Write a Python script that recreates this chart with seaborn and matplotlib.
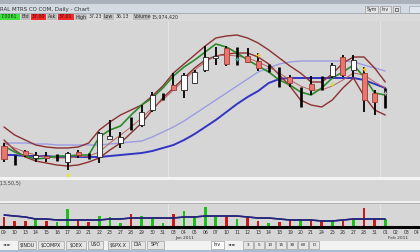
import numpy as np
import pandas as pd
import matplotlib
matplotlib.use("Agg")
import matplotlib.pyplot as plt
from matplotlib.patches import Rectangle
import seaborn as sns

# ---------------- data ----------------
dates = ["09", "10", "13", "14", "15", "16", "17", "20", "21", "22", "23", "27", "28", "29", "30", "31",
         "03", "04", "05", "06", "07", "10", "11", "12", "13", "14", "18", "19", "20", "21", "24", "25",
         "26", "27", "28", "31", "01", "02", "03", "04"]
opens = [34.70, 34.00, 34.45, 34.10, 34.20, 34.13, 33.90, 34.40, 34.20, 34.15,
         35.05, 34.85, 35.85, 35.75, 36.50, 37.20, 37.75, 37.50, 37.85, 38.50,
         39.10, 39.60, 39.05, 39.20, 38.95, 38.60, 38.15, 38.15, 37.15, 37.80,
         37.85, 38.20, 39.15, 38.50, 38.35, 37.35, 37.10]
closes = [34.05, 34.00, 34.25, 34.25, 34.10, 34.13, 34.35, 34.25, 34.20, 35.35,
          35.20, 35.15, 35.85, 36.40, 37.25, 37.20, 37.50, 38.25, 38.40, 39.15,
          39.20, 38.80, 39.05, 38.90, 38.60, 38.60, 38.15, 37.85, 37.15, 37.50,
          37.85, 38.75, 38.25, 39.00, 37.00, 36.90, 37.10]
highs = [34.85, 34.25, 34.50, 34.40, 34.40, 34.30, 34.40, 34.50, 34.35, 35.40,
         36.00, 35.40, 36.15, 36.75, 37.40, 37.35, 38.35, 38.35, 38.50, 39.70,
         39.65, 39.70, 39.65, 39.60, 39.35, 38.80, 38.65, 38.25, 37.65, 38.20,
         38.20, 38.85, 39.25, 39.25, 38.65, 37.50, 37.60]
lows = [33.90, 33.75, 34.15, 33.90, 33.90, 33.95, 33.50, 34.10, 34.05, 33.85,
        35.05, 34.60, 35.50, 35.65, 36.40, 37.00, 37.50, 37.10, 37.80, 38.40,
        38.75, 38.70, 38.75, 38.85, 38.45, 38.40, 37.65, 37.65, 36.65, 37.25,
        37.50, 38.10, 38.15, 38.15, 36.40, 36.25, 36.60]

upper_band = [35.65, 35.25, 35.00, 34.75, 34.65, 34.60, 34.60, 34.65, 34.85, 35.50,
              35.90, 36.25, 36.50, 36.75, 37.20, 37.70, 38.35, 38.80, 39.25, 39.70,
              40.10, 40.20, 40.25, 40.10, 39.85, 39.50, 39.10, 38.70, 38.35, 37.90,
              37.90, 38.30, 38.85, 39.15, 39.15, 38.60, 37.90]
lower_band = [35.00, 34.50, 34.15, 33.95, 33.85, 33.75, 33.70, 33.75, 33.90, 34.10,
              34.50, 34.85, 35.35, 35.85, 36.50, 37.10, 37.60, 38.10, 38.60, 39.00,
              39.20, 39.30, 39.35, 39.35, 39.15, 38.80, 38.25, 37.70, 37.00, 36.75,
              36.65, 37.00, 37.60, 38.10, 37.20, 36.50, 36.25]
fast_ma = [34.70, 34.40, 34.20, 34.05, 34.10, 34.20, 34.20, 34.25, 34.25, 35.15,
           35.50, 35.70, 36.25, 36.75, 37.10, 37.60, 38.20, 38.65, 39.00, 39.40,
           39.80, 39.65, 39.35, 39.00, 38.70, 38.40, 38.00, 37.75, 37.40, 37.25,
           37.60, 38.10, 38.40, 38.75, 38.15, 37.35, 37.25]
mid_ma = [34.85, 34.60, 34.40, 34.25, 34.15, 34.10, 34.10, 34.15, 34.20, 34.40,
          34.85, 35.25, 35.65, 36.10, 36.60, 37.00, 37.50, 38.00, 38.50, 38.90,
          39.20, 39.25, 39.20, 39.10, 38.90, 38.65, 38.35, 38.00, 37.70, 37.50,
          37.50, 37.70, 38.00, 38.35, 38.25, 37.90, 37.60]
ma_light = [34.85, 34.85, 34.85, 34.80, 34.80, 34.75, 34.75, 34.75, 34.75, 34.75,
            34.80, 34.85, 34.90, 34.95, 35.15, 35.40, 35.65, 35.95, 36.30, 36.65,
            37.00, 37.35, 37.70, 38.05, 38.40, 38.60, 38.80, 38.90, 38.95, 38.95,
            38.95, 38.95, 38.95, 38.90, 38.75, 38.60, 38.45]
ma_dark = [34.25, 34.25, 34.20, 34.20, 34.20, 34.15, 34.15, 34.15, 34.15, 34.15,
           34.20, 34.25, 34.30, 34.35, 34.45, 34.60, 34.75, 35.00, 35.30, 35.65,
           36.00, 36.40, 36.80, 37.15, 37.45, 37.85, 38.05, 38.10, 38.10, 38.10,
           38.10, 38.10, 38.10, 38.10, 38.00, 37.80, 37.60]

volume_m = [20, 12, 12, 16, 12, 10, 36, 14, 10, 22,
            20, 8, 26, 22, 16, 8, 26, 32, 22, 40,
            20, 20, 16, 18, 12, 8, 10, 14, 16, 12,
            12, 12, 12, 14, 38, 16, 16]
volume_dir = "DDDUDUUDDUUUDUUUDUUUUDUDDUDDUDDUDUDDU"
volume_ma = [24, 22, 20, 16, 16, 14, 14, 14, 14, 14,
             16, 16, 18, 18, 18, 18, 18, 20, 20, 22,
             22, 22, 22, 20, 18, 18, 16, 14, 14, 14,
             12, 12, 14, 16, 16, 16, 16]

signal_idx = [6, 24, 31, 34, 22, 36]
signal_price = [33.25, 39.25, 37.80, 38.55, 39.05, 37.35]

# ---------------- figure ----------------
sns.set_theme(style="white")
plt.rcParams['font.family'] = ['DejaVu Sans']

W, H = 420, 252
fig = plt.figure(figsize=(4.2, 2.52), dpi=100)

def rect(top, bottom, left=0, right=W):
    return [left / W, (H - bottom) / H, (right - left) / W, (bottom - top) / H]

# chrome axis in pixel coordinates
bg = fig.add_axes([0, 0, 1, 1], zorder=-10)
bg.set_xlim(0, W)
bg.set_ylim(H, 0)
bg.axis('off')

def box(x0, y0, x1, y1, fc, ec='none', lw=0.5):
    bg.add_patch(Rectangle((x0, y0), x1 - x0, y1 - y0, fc=fc, ec=ec, lw=lw))

QF = 3.4
box(0, 0, W, H, '#d6d6d6')
box(0, 0, W, 4, '#aab1ba')
box(0, 4, W, 13, '#d4dae2')
box(0, 13, W, 21, '#dadada')
bg.plot([0, W], [13, 13], color='#9ea6b0', lw=0.6)
bg.text(0, 9, "RAL MTRS CO COM, Daily - Chart", fontsize=4.0, color='#303030', va='center')

# quote strip
box(0, 14, 20, 20, '#3ee03e')
bg.text(1, 17, "7.0061", fontsize=QF, color='#103010', va='center')
box(21, 14, 30, 20, '#bcbcbc')
bg.text(21.5, 17, "Bid", fontsize=QF, color='#303030', va='center')
box(31, 14, 46, 20, '#ee2a2a')
bg.text(32, 17, "37.00", fontsize=QF, color='#500000', va='center')
box(47, 14, 57, 20, '#bcbcbc')
bg.text(47.5, 17, "Ask", fontsize=QF, color='#303030', va='center')
box(58, 14, 74, 20, '#ee2a2a')
bg.text(59, 17, "37.01", fontsize=QF, color='#500000', va='center')
box(75, 14, 87, 20, '#bcbcbc')
bg.text(75.5, 17, "High", fontsize=QF, color='#303030', va='center')
bg.text(88.5, 17, "37.23", fontsize=QF, color='#303030', va='center')
box(103, 14, 114, 20, '#bcbcbc')
bg.text(103.5, 17, "Low", fontsize=QF, color='#303030', va='center')
bg.text(115.5, 17, "36.13", fontsize=QF, color='#303030', va='center')
box(133, 14, 150, 20, '#bcbcbc')
bg.text(133.5, 17, "Volume", fontsize=QF, color='#303030', va='center')
bg.text(151.5, 17, "15,974,420", fontsize=QF, color='#303030', va='center')

# top-right buttons
box(365, 6, 378, 13, '#e4e4e4', ec='#9a9a9a')
bg.text(366.5, 9.5, "Sym", fontsize=3.4, color='#303030', va='center')
box(380, 6, 391, 13, '#e4e4e4', ec='#9a9a9a')
bg.text(381.5, 9.5, "Inv", fontsize=3.4, color='#303030', va='center')
box(393, 6, 400, 13, '#e4e4e4', ec='#9a9a9a')
box(395, 8, 398, 11, 'none', ec='#404040', lw=0.5)
box(409, 6, 420, 13, '#dfe6ee', ec='#9aa8b8')

# separators / indicator panel
box(0, 177, W, 180, '#f4f4f4')
box(0, 201, W, 203, '#f0f0f0')
bg.plot([0, W], [203, 203], color='#a8a8a8', lw=0.5)
bg.text(-1, 184, "(13,50,5)", fontsize=3.6, color='#404040', va='center')

# tab bar
box(0, 240.5, W, 249.5, '#f2f2f2')
box(0, 249.5, W, H, '#a9bcd2')
bg.text(3, 245, "◄ ►", fontsize=3.0, color='#202020', va='center')
tabs = [(18, 36, "$INDU"), (38, 64, "$COMPX"), (66, 86, "$OEX"), (88, 103, "USO"),
        (108, 129, "$SPX.X"), (131, 145, "DIA"), (147, 164, "SPY")]
for x0, x1, t in tabs:
    box(x0, 241, x1, 249, '#e6e6e6', ec='#8a8a8a', lw=0.4)
    bg.text((x0 + x1) / 2, 245, t, fontsize=3.4, color='#202020', va='center', ha='center')
box(211, 241, 224, 249, '#ffffff', ec='#8a8a8a', lw=0.4)
bg.text(217.5, 245, "Inv", fontsize=3.4, color='#202020', va='center', ha='center')
bg.text(228, 245, "◄ ►", fontsize=3.0, color='#202020', va='center')
small_tabs = ["3", "5", "10", "15", "30", "60", "D"]
for k, t in enumerate(small_tabs):
    x0 = 243 + k * 11
    box(x0, 241, x0 + 10, 249, '#e6e6e6', ec='#8a8a8a', lw=0.4)
    bg.text(x0 + 5, 245, t, fontsize=3.0, color='#202020', va='center', ha='center')

# ---------------- main price panel ----------------
n = len(closes)
idx = np.arange(n)
xl = (-4 / 10.59, (W - 4) / 10.59)

ax = fig.add_axes(rect(21, 177))
ax.set_facecolor('#d6d6d6')
for s in ax.spines.values():
    s.set_visible(False)
for g in (15.5, 35.5):
    ax.axvline(g, color='#e6e6e6', lw=0.6, zorder=0)

lines = pd.DataFrame({"i": idx, "upper": upper_band, "lower": lower_band, "fast": fast_ma,
                      "mid": mid_ma, "light": ma_light, "dark": ma_dark})
sns.lineplot(data=lines, x="i", y="light", ax=ax, color='#9c9ce4', lw=1.0, zorder=2)
sns.lineplot(data=lines, x="i", y="dark", ax=ax, color='#3434c4', lw=1.4, zorder=2)
sns.lineplot(data=lines, x="i", y="upper", ax=ax, color='#8c3030', lw=1.0, zorder=3)
sns.lineplot(data=lines, x="i", y="lower", ax=ax, color='#8c3030', lw=1.0, zorder=3)
sns.lineplot(data=lines, x="i", y="mid", ax=ax, color='#b86060', lw=0.7, zorder=3)
sns.lineplot(data=lines, x="i", y="fast", ax=ax, color='#2c8a2c', lw=1.2, zorder=4)

for i in idx:
    o, h, l, c = opens[i], highs[i], lows[i], closes[i]
    if abs(c - o) < 0.06:
        ax.vlines(i, l, h, color='black', lw=1.9, zorder=6)
    else:
        ax.vlines(i, l, h, color='black', lw=1.3, zorder=5)
        lo, hi = min(o, c), max(o, c)
        if c > o:
            fc, ec = '#ffffff', '#202020'
        else:
            fc, ec = '#e8766e', '#9c3b35'
        ax.add_patch(Rectangle((i - 0.24, lo), 0.48, hi - lo, fc=fc, ec=ec, lw=0.6, zorder=6))

sig_colors = ['#e8e830', '#f0c020', '#c8e040', '#f0c020', '#40b0a0', '#b0b0b0']
for k in range(len(signal_idx)):
    ax.plot(signal_idx[k], signal_price[k], marker='P', ms=3, color=sig_colors[k],
            mec='none', zorder=7)
ax.set_xlim(*xl)
ax.set_ylim(42 - 177 / 20, 42 - 21 / 20)
ax.set_xticks([])
ax.set_yticks([])
ax.set_xlabel("")
ax.set_ylabel("")

# ---------------- volume panel ----------------
axv = fig.add_axes(rect(204, 229))
axv.set_facecolor('#d6d6d6')
for s in axv.spines.values():
    s.set_visible(False)
for g in (15.5, 35.5):
    axv.axvline(g, color='#e6e6e6', lw=0.6, zorder=0)
bar_colors = ['#18c018' if d == 'U' else '#c81818' for d in volume_dir]
axv.bar(idx, volume_m, width=0.25, color=bar_colors, edgecolor='none', linewidth=0, zorder=2)
vdf = pd.DataFrame({"i": idx, "vma": volume_ma})
sns.lineplot(data=vdf, x="i", y="vma", ax=axv, color='#24247a', linewidth=1.1, zorder=8)
# draw the same average line directly too, on top, so it is certainly rendered
axv.plot(idx, volume_ma, color='#24247a', linewidth=1.1, zorder=9, solid_capstyle='butt')
axv.axhline(0, color='black', lw=2.2, zorder=4)
axv.set_xlim(*xl)
axv.set_ylim(-4, 46)
axv.set_yticks([])
axv.set_xticks(np.arange(len(dates)))
axv.set_xticklabels(dates, fontsize=3.3, color='#303030')
axv.tick_params(axis='x', length=0, pad=0.6)
axv.set_xlabel("")
axv.set_ylabel("")

bg.text(185, 237.6, "Jan 2011", fontsize=3.2, color='#303030', va='center', ha='center')
bg.text(398, 237.6, "Feb 2011", fontsize=3.2, color='#303030', va='center', ha='center')

fig.savefig("out.png", dpi=100)
